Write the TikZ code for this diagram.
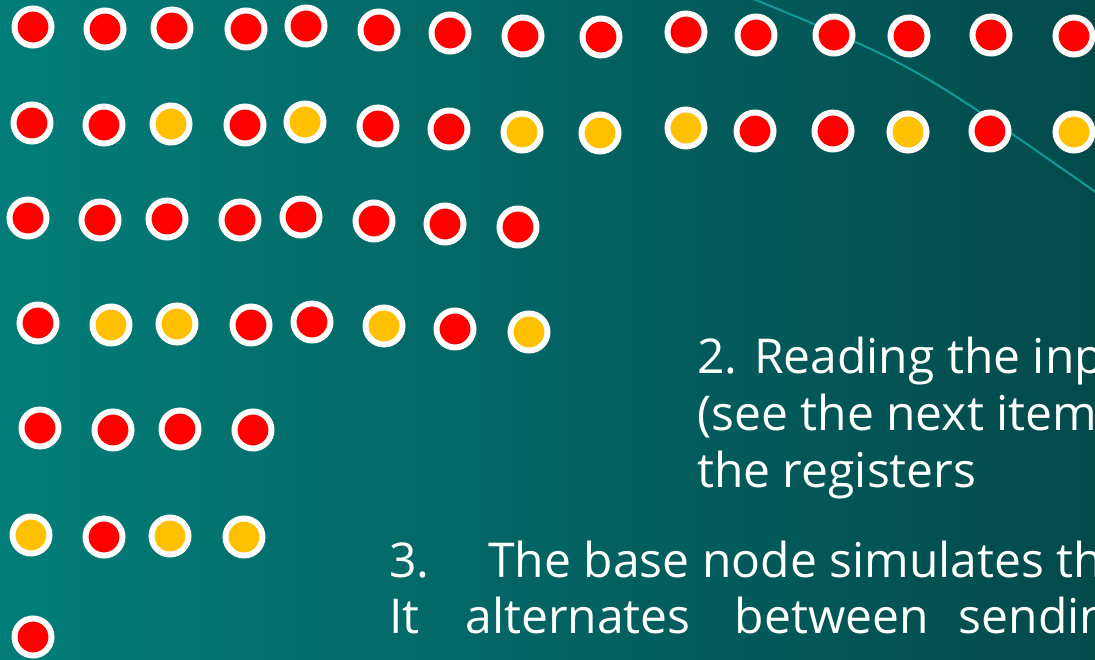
\documentclass[tikz,border=0pt]{standalone}
\usepackage{fontspec}
\setmainfont{Open Sans}
\usetikzlibrary{positioning}
\definecolor{slidebgl}{HTML}{037D79}
\definecolor{slidebgm}{HTML}{026E6B}
\definecolor{slidebgr}{HTML}{034A4B}
\definecolor{slidearc}{HTML}{0E9C9A}
\definecolor{bitred}{HTML}{FF0000}
\definecolor{bitamber}{HTML}{FFC000}
\tikzset{
  bit/.style={circle,draw=white,line width=6pt,minimum size=37pt,inner sep=0pt},
  bitr/.style={bit,fill=bitred},
  bity/.style={bit,fill=bitamber},
  txt/.style={text=white,font=\fontsize{48}{57}\selectfont,anchor=base west,inner sep=0pt},
}
\begin{document}
\begin{tikzpicture}[x=1pt,y=-1pt]
  \useasboundingbox (0,0) rectangle (1095,660);
  \clip (0,0) rectangle (1095,660);
  \shade[left color=slidebgl,middle color=slidebgm,right color=slidebgr] (0,0) rectangle (1095,660);
  % arc behind the registers
  \coordinate (arcA) at (751,-2);
  \coordinate (arcB) at (1097,193);
  \draw[slidearc,line width=2pt] (arcA) .. controls (914,65) .. (arcB);
  % register rows
  \foreach \x/\y/\c [count=\i] in {33/27/r,105/29/r,172/28/r,246/29/r,306/26/r,379/30/r,450/33/r,523/36/r,601/37/r,686/32/r,756/35/r,834/35/r,909/36/r,991/35/r,1074/36/r}
    \node[bit\c] (rowa\i) at (\x,\y) {};
  \foreach \x/\y/\c [count=\i] in {32/123/r,104/125/r,171/124/y,245/125/r,305/122/y,378/126/r,449/129/r,522/132/y,600/133/y,686/128/y,755/131/r,833/131/r,908/132/y,990/131/r,1074/132/y}
    \node[bit\c] (rowb\i) at (\x,\y) {};
  \foreach \x/\y/\c [count=\i] in {28/218/r,100/220/r,167/219/r,240/220/r,301/217/r,374/221/r,445/224/r,518/227/r}
    \node[bit\c] (rowc\i) at (\x,\y) {};
  \foreach \x/\y/\c [count=\i] in {38/323/r,111/325/y,177/324/y,251/325/r,312/322/r,384/326/y,455/329/r,529/332/y}
    \node[bit\c] (rowd\i) at (\x,\y) {};
  \foreach \x/\y/\c [count=\i] in {40/428/r,113/430/r,180/429/r,253/430/r}
    \node[bit\c] (rowe\i) at (\x,\y) {};
  \foreach \x/\y/\c [count=\i] in {31/535/y,104/537/r,170/536/y,244/537/y}
    \node[bit\c] (rowf\i) at (\x,\y) {};
  \node[bitr] (rowg1) at (33,637) {};
  % text
  \node[txt] (stepa1) at (697,373) {2. Reading the inp};
  \node[txt] (stepa2) at (697,430) {(see the next item};
  \node[txt] (stepa3) at (697,487) {the registers};
  \node[txt] (stepb1) at (389,577) {3.\hspace{59pt}The base node simulates th};
  \node[txt] (stepb2) at (389,633) {It\hspace{46pt}alternates\hspace{44pt}between\hspace{30pt}sendin};
\end{tikzpicture}
\end{document}
